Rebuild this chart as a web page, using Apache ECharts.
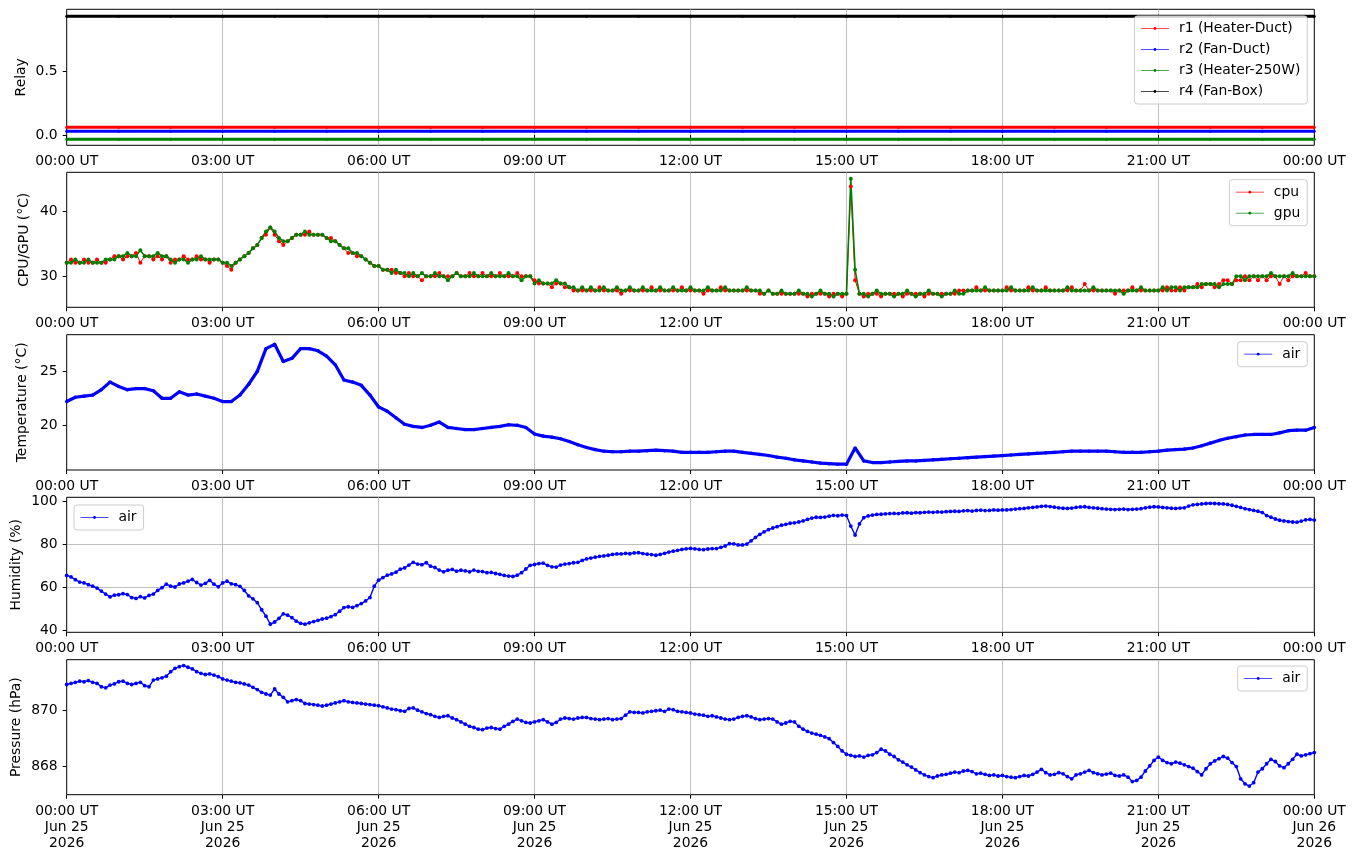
<!DOCTYPE html>
<html><head><meta charset="utf-8">
<script src="https://cdn.jsdelivr.net/npm/echarts@6/dist/echarts.min.js"></script>
<style>html,body{margin:0;padding:0;background:#fff}#c{width:1355px;height:861px}</style>
</head><body><div id="c"></div>
<script>
// ---------- tick labels ----------
const xTickLabels = ['00:00 UT','03:00 UT','06:00 UT','09:00 UT','12:00 UT','15:00 UT','18:00 UT','21:00 UT','00:00 UT'];
const xDateLabels = ['Jun 25','Jun 25','Jun 25','Jun 25','Jun 25','Jun 25','Jun 25','Jun 25','Jun 26'];
const xYearLabels = ['2026','2026','2026','2026','2026','2026','2026','2026','2026'];
const relayTicks = [0, 0.5];
const cpuTicks = [30, 40];
const tempTicks = [20, 25];
const humTicks = [40, 60, 80, 100];
const presTicks = [868, 870];

// ---------- relay (hourly samples) ----------
const r1Relay = [0.06,0.06,0.06,0.06,0.06,0.06,0.06,0.06,0.06,0.06,0.06,0.06,0.06,0.06,0.06,0.06,0.06,0.06,0.06,0.06,0.06,0.06,0.06,0.06,0.06];
const r2Relay = [0.029,0.029,0.029,0.029,0.029,0.029,0.029,0.029,0.029,0.029,0.029,0.029,0.029,0.029,0.029,0.029,0.029,0.029,0.029,0.029,0.029,0.029,0.029,0.029,0.029];
const r3Relay = [-0.034,-0.034,-0.034,-0.034,-0.034,-0.034,-0.034,-0.034,-0.034,-0.034,-0.034,-0.034,-0.034,-0.034,-0.034,-0.034,-0.034,-0.034,-0.034,-0.034,-0.034,-0.034,-0.034,-0.034,-0.034];
const r4Relay = [0.932,0.932,0.932,0.932,0.932,0.932,0.932,0.932,0.932,0.932,0.932,0.932,0.932,0.932,0.932,0.932,0.932,0.932,0.932,0.932,0.932,0.932,0.932,0.932,0.932];

// ---------- CPU / GPU (5-minute samples) ----------
const cpuTemp = [
32.1,32.6,32.1,32.1,32.6,32.1,32.1,32.6,32.1,32.1,32.6,33.1,
33.1,32.6,33.1,33.1,33.6,32.1,33.1,33.1,32.6,33.1,32.6,33.1,
32.1,32.6,32.6,33.1,32.6,32.6,33.1,32.6,32.6,32.1,32.6,32.6,
32.1,31.6,31.0,32.1,32.6,33.1,33.6,34.3,34.8,35.9,36.4,37.5,
36.4,35.4,34.8,35.4,35.9,36.4,36.4,36.4,36.9,36.4,36.4,36.4,
35.9,35.9,35.4,34.8,34.3,33.6,33.6,33.1,33.1,32.6,32.1,31.6,
31.6,31.0,31.0,31.0,30.5,30.5,30.0,30.5,30.0,30.0,29.4,30.0,
30.0,30.0,30.5,30.0,30.0,30.0,30.5,30.0,30.0,30.5,30.0,30.0,
30.5,30.0,30.0,30.0,30.5,30.0,30.0,30.0,30.5,30.0,30.0,30.0,
29.4,28.9,28.9,28.9,28.3,28.9,28.9,28.3,28.3,27.8,27.8,27.8,
27.8,27.8,27.8,28.3,27.8,27.8,27.8,27.8,27.3,27.8,27.8,27.8,
27.8,27.8,27.8,28.3,27.8,27.8,27.8,27.8,27.8,27.8,28.3,27.8,
27.8,27.8,27.8,27.3,27.8,27.8,27.8,28.3,27.8,27.8,27.8,27.8,
27.8,27.8,27.8,27.8,27.3,27.3,27.8,27.3,27.3,27.3,27.3,27.3,
27.3,27.3,27.3,26.9,27.3,27.3,27.3,27.3,26.9,27.3,27.3,26.9,
27.3,43.8,29.4,27.3,26.9,27.3,27.3,27.3,26.9,27.3,27.3,27.3,
27.3,26.9,27.3,27.3,27.3,27.3,26.9,27.3,27.3,27.3,27.3,27.3,
27.3,27.3,27.8,27.8,27.8,27.8,28.3,27.8,27.8,27.8,27.8,27.8,
27.8,28.3,27.8,27.8,27.8,27.8,28.3,27.8,27.8,27.8,28.3,27.8,
27.8,27.8,27.8,27.8,28.3,27.8,27.8,28.8,27.8,27.8,27.8,27.8,
27.8,27.8,27.3,27.8,27.8,27.8,28.3,27.8,27.8,27.8,27.8,27.8,
27.8,27.8,28.3,27.8,27.8,28.3,27.8,28.3,28.3,28.8,28.3,28.8,
28.8,28.3,28.8,29.4,29.4,28.8,29.4,29.4,30.0,29.4,30.0,29.4,
30.0,29.4,30.0,30.0,28.8,30.0,29.4,30.0,30.0,30.0,30.5,30.0,
30.0];
const gpuTemp = [
32.1,32.1,32.6,32.1,32.1,32.6,32.1,32.1,32.1,32.6,32.6,32.6,
33.1,33.1,33.6,33.1,33.1,34.0,33.1,33.1,33.1,33.6,33.1,33.1,
32.6,32.1,32.6,32.6,32.1,32.6,32.6,33.1,32.6,32.6,32.6,32.6,
32.1,32.1,31.6,32.1,32.6,33.1,33.6,34.3,34.8,35.9,36.9,37.5,
36.9,35.9,35.4,35.4,35.9,36.4,36.4,36.9,36.4,36.4,36.4,36.4,
35.9,35.4,35.4,34.8,34.3,34.3,33.6,33.6,33.1,32.6,32.1,31.6,
31.6,31.0,31.0,30.5,31.0,30.5,30.5,30.0,30.5,30.0,30.5,30.0,
30.0,30.5,30.0,30.0,29.4,30.0,30.5,30.0,30.0,30.0,30.5,30.0,
30.0,30.0,30.5,30.0,30.0,30.0,30.5,30.0,30.0,29.4,30.0,30.0,
28.9,29.4,28.9,28.9,28.9,29.4,28.9,28.9,28.3,28.3,27.8,28.3,
27.8,28.3,27.8,27.8,28.3,27.8,27.8,28.3,27.8,27.8,28.3,27.8,
27.8,28.3,27.8,27.8,27.8,28.3,27.8,27.8,28.3,27.8,27.8,27.8,
28.3,27.8,27.8,27.8,28.3,27.8,27.8,27.8,28.3,27.8,27.8,27.8,
27.8,28.3,27.8,27.8,27.8,27.3,27.8,27.3,27.3,27.8,27.3,27.3,
27.3,27.8,27.3,27.3,26.9,27.3,27.8,27.3,27.3,26.9,27.3,27.3,
27.3,45.0,31.0,27.3,27.3,26.9,27.3,27.8,27.3,27.3,27.3,26.9,
27.3,27.3,27.8,27.3,26.9,27.3,27.3,27.8,27.3,27.3,26.9,27.3,
27.3,27.8,27.3,27.3,27.8,27.8,27.8,27.8,28.3,27.8,27.8,27.8,
27.8,27.8,28.3,27.8,27.8,27.8,27.8,28.3,27.8,27.8,27.8,27.8,
27.8,27.8,27.8,28.3,27.8,27.8,27.8,27.8,27.8,28.3,27.8,27.8,
27.8,27.8,27.8,27.8,27.3,27.8,27.8,27.8,28.3,27.8,27.8,27.8,
27.8,28.3,27.8,28.3,28.3,27.8,28.3,28.3,28.3,28.3,28.8,28.8,
28.8,28.8,28.3,28.8,28.8,28.8,30.0,30.0,29.4,30.0,30.0,30.0,
30.0,30.0,30.5,30.0,30.0,30.0,30.0,30.5,30.0,30.0,30.0,30.0,
30.0];

// ---------- air temperature (10-minute samples) ----------
const airTemp = [
22.2,22.6,22.7,22.8,23.3,24.0,
23.6,23.3,23.4,23.4,23.2,22.5,
22.5,23.1,22.8,22.9,22.7,22.5,
22.2,22.2,22.8,23.8,25.0,27.1,
27.5,25.9,26.2,27.1,27.1,26.9,
26.4,25.6,24.2,24.0,23.7,22.8,
21.7,21.3,20.7,20.1,19.9,19.8,
20.0,20.3,19.8,19.7,19.6,19.6,
19.7,19.8,19.9,20.05,20.0,19.8,
19.2,19.0,18.9,18.75,18.5,18.2,
17.95,17.75,17.6,17.55,17.55,17.6,
17.6,17.65,17.7,17.65,17.6,17.5,
17.5,17.5,17.5,17.55,17.6,17.6,
17.5,17.4,17.3,17.2,17.05,16.95,
16.8,16.7,16.6,16.5,16.45,16.4,
16.4,17.9,16.7,16.55,16.55,16.6,
16.65,16.7,16.7,16.75,16.8,16.85,
16.9,16.95,17.0,17.05,17.1,17.15,
17.2,17.25,17.3,17.35,17.4,17.45,
17.5,17.55,17.6,17.6,17.6,17.6,
17.6,17.55,17.5,17.5,17.5,17.55,
17.6,17.7,17.75,17.8,17.9,18.1,
18.35,18.6,18.8,18.95,19.1,19.15,
19.15,19.15,19.3,19.5,19.55,19.55,
19.8];

// ---------- humidity (5-minute samples) ----------
const airHum = [
65.5,64.8,63.5,62.4,62.0,61.2,60.5,59.6,58.2,56.8,55.5,56.3,
56.5,57.0,56.6,55.2,54.8,55.6,55.0,56.2,56.8,58.5,59.8,61.4,
60.5,60.1,61.5,62.0,62.8,63.6,62.2,61.0,61.8,63.2,61.4,60.2,
62.0,62.8,61.6,61.2,60.4,58.5,56.0,54.6,52.8,49.5,46.5,42.8,
43.8,45.5,47.6,47.0,45.8,44.2,43.2,42.8,43.4,44.0,44.6,45.2,
45.6,46.3,47.2,48.8,50.5,50.9,50.6,51.4,52.4,53.6,55.2,60.5,
63.3,64.5,65.6,66.2,67.0,68.4,69.0,70.3,71.6,70.8,70.5,71.4,
69.8,69.2,68.0,67.2,67.9,68.3,67.5,67.9,67.6,67.2,68.0,67.4,
67.3,66.8,66.9,66.4,66.0,65.5,65.2,65.0,65.6,66.8,68.5,70.2,
70.6,71.0,71.2,70.2,69.5,69.4,70.3,70.8,71.0,71.4,71.6,72.5,
73.2,73.6,74.0,74.4,74.6,74.9,75.3,75.5,75.5,75.8,75.6,76.0,
76.1,75.7,75.4,75.2,74.9,75.3,75.8,76.4,76.8,77.2,77.6,77.9,
78.1,77.9,77.6,77.5,77.8,78.0,78.0,78.6,79.2,80.3,80.2,79.7,
79.7,80.1,81.6,83.2,84.6,85.8,86.8,87.6,88.2,88.9,89.3,89.8,
90.0,90.4,90.9,91.6,92.2,92.6,92.5,92.7,93.1,93.5,93.3,93.6,
93.4,88.5,84.3,89.5,92.4,93.2,93.6,93.9,94.0,94.2,94.3,94.4,
94.3,94.6,94.7,94.5,94.8,94.7,94.9,95.0,94.9,95.1,95.0,95.2,
95.3,95.4,95.3,95.6,95.7,95.5,95.8,95.9,95.7,95.8,96.0,95.9,
96.0,96.0,96.2,96.4,96.6,96.7,97.0,97.2,97.4,97.7,97.8,97.6,
97.3,97.0,96.8,96.7,96.9,97.2,97.4,97.5,97.2,97.0,96.8,96.6,
96.4,96.3,96.2,96.3,96.4,96.2,96.3,96.4,96.6,97.0,97.3,97.5,
97.4,97.2,97.0,96.8,96.7,96.9,97.0,97.8,98.4,98.6,98.8,99.0,
99.1,99.0,98.9,98.8,98.6,98.2,97.7,97.2,96.6,96.2,95.8,95.4,
94.8,93.4,92.6,91.8,91.2,90.9,90.6,90.4,90.3,90.8,91.4,91.6,
91.3];

// ---------- pressure (5-minute samples) ----------
const airPres = [
870.94,870.98,871.02,871.06,871.04,871.08,871.02,870.98,870.86,870.82,870.92,870.96,
871.04,871.06,870.98,870.94,870.98,871.02,870.90,870.86,871.10,871.14,871.18,871.24,
871.40,871.52,871.58,871.62,871.56,871.50,871.40,871.34,871.30,871.32,871.28,871.22,
871.14,871.10,871.06,871.02,871.00,870.96,870.92,870.84,870.76,870.66,870.60,870.56,
870.78,870.60,870.48,870.32,870.36,870.40,870.36,870.26,870.24,870.22,870.20,870.17,
870.20,870.24,870.28,870.32,870.36,870.32,870.30,870.28,870.26,870.24,870.22,870.20,
870.18,870.14,870.10,870.06,870.04,870.00,869.98,870.08,870.10,870.02,869.96,869.90,
869.86,869.80,869.76,869.80,869.82,869.74,869.68,869.60,869.52,869.44,869.40,869.34,
869.32,869.38,869.40,869.36,869.34,869.44,869.52,869.62,869.70,869.64,869.58,869.56,
869.60,869.64,869.68,869.60,869.52,869.58,869.70,869.74,869.72,869.70,869.74,869.76,
869.76,869.72,869.70,869.68,869.70,869.72,869.68,869.70,869.72,869.84,869.96,869.94,
869.94,869.92,869.96,869.98,870.00,870.02,869.98,870.06,870.04,869.98,869.96,869.94,
869.92,869.88,869.86,869.84,869.80,869.82,869.78,869.74,869.70,869.68,869.70,869.76,
869.80,869.82,869.78,869.72,869.68,869.70,869.72,869.70,869.60,869.52,869.56,869.62,
869.60,869.44,869.34,869.26,869.20,869.16,869.12,869.06,869.00,868.86,868.72,868.56,
868.44,868.40,868.36,868.38,868.34,868.40,868.42,868.50,868.62,868.56,868.44,868.36,
868.24,868.16,868.06,867.98,867.88,867.78,867.70,867.64,867.60,867.66,867.70,867.72,
867.76,867.80,867.78,867.84,867.86,867.82,867.74,867.76,867.72,867.68,867.70,867.66,
867.68,867.64,867.62,867.60,867.64,867.68,867.66,867.72,867.80,867.90,867.78,867.70,
867.72,867.78,867.74,867.64,867.56,867.70,867.74,867.80,867.86,867.78,867.74,867.70,
867.73,867.76,867.68,867.66,867.70,867.62,867.46,867.50,867.62,867.84,868.02,868.22,
868.34,868.22,868.14,868.10,868.16,868.12,868.06,868.00,867.94,867.82,867.70,867.92,
868.10,868.20,868.28,868.36,868.30,868.14,868.00,867.56,867.38,867.30,867.42,867.80,
867.92,868.10,868.26,868.18,868.02,867.96,868.10,868.26,868.44,868.38,868.42,868.46,
868.50];

// ---------- build chart ----------
const FONT = 'DejaVu Sans';
const FS = 13.9;
const H1 = 1, H5 = 5/60, H10 = 10/60;
const pts = (vals, stepH) => vals.map((v, i) => [i * stepH, v]);

const tops = [9.3, 172.3, 334.7, 497.3, 659.7];
const heights = [136, 135, 135.3, 135, 135];

function xAxis(i) {
  const bottom = i === 4;
  return {
    type: 'value', gridIndex: i, min: 0, max: 24, interval: 3,
    axisLine: { show: false },
    axisTick: { show: true, length: 4, lineStyle: { color: '#000', width: 1 } },
    axisLabel: {
      color: '#000', fontFamily: FONT, fontSize: FS, margin: 8.5, lineHeight: 16,
      showMinLabel: true, showMaxLabel: true,
      formatter: v => {
        const k = Math.round(v / 3);
        return bottom ? xTickLabels[k] + '\n' + xDateLabels[k] + '\n' + xYearLabels[k] : xTickLabels[k];
      }
    },
    splitLine: { show: true, showMinLine: false, showMaxLine: false, lineStyle: { color: '#b0b0b0', width: 0.8 } }
  };
}
function yAxis(i, min, max, ticks, name, gap, fmt) {
  return {
    type: 'value', gridIndex: i, min: min, max: max,
    minInterval: ticks[1] - ticks[0], maxInterval: ticks[1] - ticks[0],
    name: name, nameLocation: 'middle', nameRotate: 90, nameGap: gap, nameMoveOverlap: false,
    nameTextStyle: { color: '#000', fontFamily: FONT, fontSize: FS },
    axisLine: { show: false },
    axisTick: { show: true, length: 4, customValues: ticks, lineStyle: { color: '#000', width: 1 } },
    axisLabel: { color: '#000', fontFamily: FONT, fontSize: FS, margin: 9, customValues: ticks, formatter: fmt },
    splitLine: { show: true, showMinLine: false, showMaxLine: false, lineStyle: { color: '#b0b0b0', width: 0.8 } }
  };
}
function ser(name, data, color, idx, lw, ss) {
  return {
    type: 'line', name: name, data: data, xAxisIndex: idx, yAxisIndex: idx,
    symbol: 'circle', symbolSize: ss, showSymbol: true, showAllSymbol: true,
    itemStyle: { color: color }, lineStyle: { color: color, width: lw },
    emphasis: { disabled: true }, animation: false, silent: true
  };
}
function legend(names, pos) {
  return Object.assign({
    data: names, orient: 'vertical', itemWidth: 28, itemHeight: 3.5, itemGap: 7,
    padding: [5.5, 7, 5.5, 6], backgroundColor: 'rgba(255,255,255,0.8)',
    borderColor: '#cccccc', borderWidth: 1, borderRadius: 3,
    textStyle: { color: '#000', fontFamily: FONT, fontSize: FS, padding: [0, 0, 0, 5] },
    lineStyle: { width: 1, opacity: 0.7 }, itemStyle: { opacity: 1 },
    selectedMode: false
  }, pos);
}

const option = {
  animation: false,
  backgroundColor: '#fff',
  grid: tops.map((t, i) => ({ left: 66.7, right: 40.7, top: t, height: heights[i], show: true, borderColor: '#000', borderWidth: 1, backgroundColor: 'transparent' })),
  xAxis: [0, 1, 2, 3, 4].map(xAxis),
  yAxis: [
    yAxis(0, -0.081, 0.987, relayTicks, 'Relay', 38.5, v => v.toFixed(1)),
    yAxis(1, 25.23, 46.0, cpuTicks, 'CPU/GPU (°C)', 35.5, v => String(v)),
    yAxis(2, 15.86, 28.39, tempTicks, 'Temperature (°C)', 37.5, v => String(v)),
    yAxis(3, 39.0, 101.9, humTicks, 'Humidity (%)', 43.5, v => String(v)),
    yAxis(4, 866.99, 871.83, presTicks, 'Pressure (hPa)', 43.5, v => String(v))
  ],
  legend: [
    legend(['r1 (Heater-Duct)', 'r2 (Fan-Duct)', 'r3 (Heater-250W)', 'r4 (Fan-Box)'], { right: 47.7, top: 16 }),
    legend(['cpu', 'gpu'], { right: 47.7, top: 179.7 }),
    legend(['air'], { right: 47.7, top: 341.7 }),
    legend(['air'], { left: 74, top: 505 }),
    legend(['air'], { right: 47.7, top: 666 })
  ],
  series: [
    ser('r1 (Heater-Duct)', pts(r1Relay, H1), '#ff0000', 0, 3, 3),
    ser('r2 (Fan-Duct)', pts(r2Relay, H1), '#0000ff', 0, 3, 3),
    ser('r3 (Heater-250W)', pts(r3Relay, H1), '#008000', 0, 3, 3),
    ser('r4 (Fan-Box)', pts(r4Relay, H1), '#000000', 0, 3, 3),
    ser('cpu', pts(cpuTemp, H5), '#ff0000', 1, 1.0, 4),
    ser('gpu', pts(gpuTemp, H5), '#008000', 1, 1.6, 4),
    ser('air', pts(airTemp, H10), '#0000ff', 2, 3.2, 3.5),
    ser('air', pts(airHum, H5), '#0000ff', 3, 1.4, 3.8),
    ser('air', pts(airPres, H5), '#0000ff', 4, 1.4, 3.8)
  ]
};
const chart = echarts.init(document.getElementById('c'), null, { renderer: 'canvas' });
chart.setOption(option);
</script>
</body></html>
